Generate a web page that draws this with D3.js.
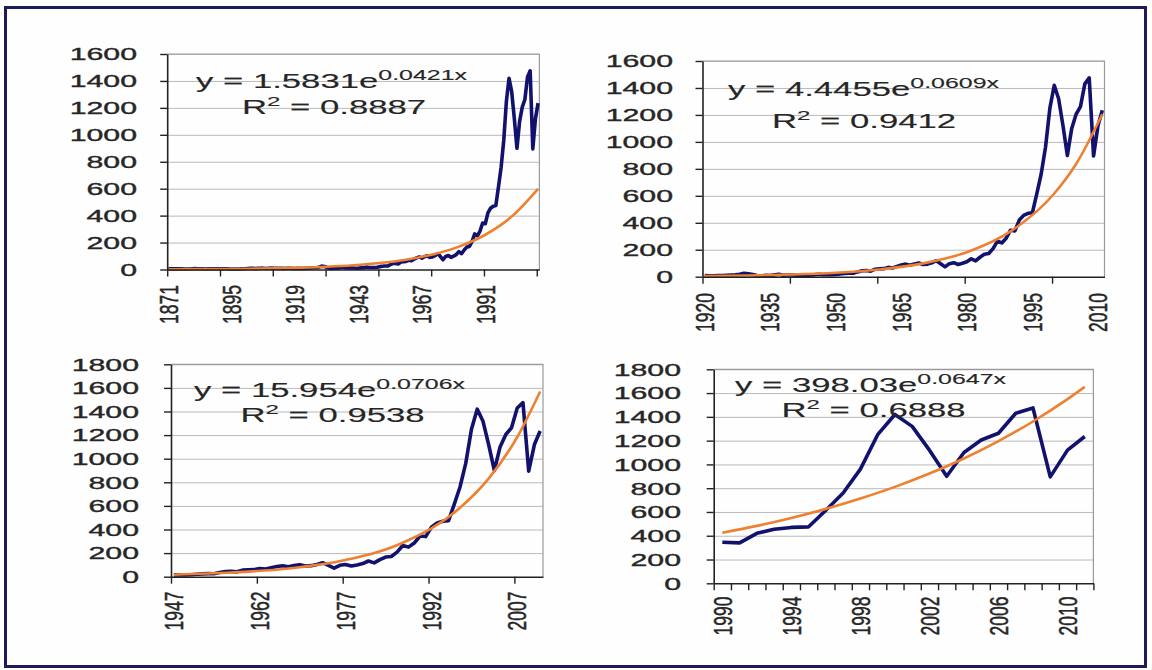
<!DOCTYPE html>
<html><head><meta charset="utf-8">
<script src="https://cdn.jsdelivr.net/npm/d3@7"></script>
<style>
html,body{margin:0;padding:0;background:#fff;}
svg{display:block;font-family:"Liberation Sans", Arial, sans-serif;}
</style></head><body>
<svg id="chart" width="1152" height="670"></svg>
<script>
// ---------- DATA ----------
const firstYear = 1871;
// annual index values 1871..2011
const indexValues = [
  4.44,4.86,5.11,4.66,4.54,4.46,3.55,3.25,3.58,5.11,
  6.19,5.92,5.81,5.18,4.24,5.20,5.58,5.31,5.24,5.38,
  4.84,5.51,5.61,4.32,4.25,4.27,4.22,4.88,6.08,6.10,
  7.07,8.12,8.46,6.68,8.43,9.87,9.56,7.08,9.06,10.08,
  9.27,9.12,9.30,8.37,7.48,9.33,9.57,7.21,7.85,8.83,
  7.11,7.30,8.90,8.83,10.58,12.65,13.40,17.53,24.86,21.71,
  15.98,8.30,7.09,10.54,9.26,13.76,17.59,11.31,12.50,12.30,
  10.55,8.93,10.09,11.85,13.49,18.02,15.21,14.83,15.36,16.88,
  21.21,24.19,26.18,25.46,35.60,44.15,45.43,41.12,55.62,58.03,
  59.72,69.07,65.06,76.45,86.12,93.32,84.45,95.04,102.0,90.31,
  93.49,103.3,118.4,96.11,72.56,96.86,103.8,90.25,99.71,110.9,
  133.0,117.3,144.3,166.4,171.6,208.2,264.5,250.5,285.4,
  345,340,420,455,470,475,615,760,960,1250,
  1420,1320,1120,900,1100,1205,1262,1430,1475,895,
  1120,1235
];
const indexYears = indexValues.map((_, i) => firstYear + i);

// exponential trend lines, values read at sample years
const trendYears1 = [1871,1881,1891,1901,1911,1921,1931,1941,1951,1961,1971,1981,1991,2001,2011];
const trendValues1 = [1.7,2.5,3.8,5.8,8.9,13.6,20.6,31.5,48,73,111,170,258,393,599];
const trendYears2 = [1920,1930,1940,1950,1960,1970,1980,1990,2000,2005,2011];
const trendValues2 = [4.7,8.7,16.0,29.4,54,99,182,336,617,836,1205];
const trendYears3 = [1947,1957,1967,1977,1987,1997,2002,2007,2011];
const trendValues3 = [17,35,70,142,288,584,831,1184,1570];
const trendYears4 = [1990,1992,1994,1996,1998,2000,2002,2004,2006,2008,2010,2011];
const trendValues4 = [425,483,550,626,713,811,923,1050,1196,1361,1549,1652];

const yTicks1600 = [0,200,400,600,800,1000,1200,1400,1600];
const yTicks1800 = [0,200,400,600,800,1000,1200,1400,1600,1800];

const xLabels1 = [1871,1895,1919,1943,1967,1991];
const xLabels2 = [1920,1935,1950,1965,1980,1995,2010];
const xLabels3 = [1947,1962,1977,1992,2007];
const xLabels4 = [1990,1994,1998,2002,2006,2010];

const eqCoefficients = ["1.5831","4.4455","15.954","398.03"];
const eqExponents = ["0.0421x","0.0609x","0.0706x","0.0647x"];
const eqR2 = ["0.8887","0.9412","0.9538","0.6888"];

// ---------- LAYOUT ----------
const panels = [
  {start:1871,end:2011,x0:167.2,x1:539.4,yTop:54,yBot:269.5,yMax:1600,yTicks:yTicks1600,
   tickStep:20,labels:xLabels1,tYears:trendYears1,tVals:trendValues1,
   labRight:137,xLabTop:285,eq:{x:196,y:87.5},r2:{x:242,y:114}},
  {start:1920,end:2011,x0:702.5,x1:1104.5,yTop:61,yBot:276.7,yMax:1600,yTicks:yTicks1600,
   tickStep:20,labels:xLabels2,tYears:trendYears2,tVals:trendValues2,
   labRight:673,xLabTop:293,eq:{x:728,y:96},r2:{x:772,y:127.5}},
  {start:1947,end:2011,x0:171,x1:543,yTop:364.3,yBot:576.7,yMax:1800,yTicks:yTicks1800,
   tickStep:15,labels:xLabels3,tYears:trendYears3,tVals:trendValues3,
   labRight:139,xLabTop:591.5,eq:{x:194,y:396.5},r2:{x:240.5,y:422}},
  {start:1990,end:2011,x0:713.7,x1:1093.4,yTop:369.3,yBot:583.3,yMax:1800,yTicks:yTicks1800,
   tickStep:1,labels:xLabels4,tYears:trendYears4,tVals:trendValues4,
   labRight:681,xLabTop:596.5,eq:{x:735,y:391.5},r2:{x:781.5,y:416.5}}
];

const BLUE = "#12126e", ORANGE = "#ee8030", TEXT = "#262626";
const SX = 1.78;      // horizontal stretch of the picture text
const SXR = 1.45;     // stretch for rotated labels
const FONT = '"Liberation Sans", Arial, sans-serif';

const svg = d3.select("#chart");
svg.append("rect").attr("x",0).attr("y",0).attr("width",1152).attr("height",670).attr("fill","#fff");
svg.append("rect").attr("x",5.5).attr("y",7.5).attr("width",1140).attr("height",659)
   .attr("fill","#fefefe").attr("stroke","#1c1c5c").attr("stroke-width",3);

function heavy(sel, w) {
  return sel.attr("fill", TEXT).attr("stroke", TEXT).attr("stroke-width", w == null ? 0.35 : w);
}

panels.forEach((p, k) => {
  const g = svg.append("g");
  const x = d3.scaleLinear().domain([p.start - 0.5, p.end + 0.5]).range([p.x0, p.x1]);
  const y = d3.scaleLinear().domain([0, p.yMax]).range([p.yBot, p.yTop]);

  // gridlines
  g.append("g").attr("transform", `translate(${p.x0},0)`)
    .call(d3.axisLeft(y).tickValues(p.yTicks.slice(1)).tickSize(-(p.x1 - p.x0)).tickFormat(""))
    .call(a => a.select(".domain").remove())
    .call(a => a.selectAll("line").attr("stroke", "#bababa").attr("stroke-width", 1));
  // plot border (top/right)
  g.append("path").attr("d", `M${p.x0},${p.yTop}H${p.x1}V${p.yBot}`)
    .attr("fill","none").attr("stroke","#9a9a9a").attr("stroke-width",1.2);

  // series
  const slice = indexYears.map((yr, i) => [yr, indexValues[i]]).filter(d => d[0] >= p.start && d[0] <= p.end);
  g.append("path").datum(slice)
    .attr("d", d3.line().x(d => x(d[0])).y(d => y(d[1])))
    .attr("fill","none").attr("stroke",BLUE).attr("stroke-width",3.6).attr("stroke-linejoin","round");
  const trend = p.tYears.map((yr, i) => [yr, p.tVals[i]]);
  g.append("path").datum(trend)
    .attr("d", d3.line().curve(d3.curveMonotoneX).x(d => x(d[0])).y(d => y(d[1])))
    .attr("fill","none").attr("stroke",ORANGE).attr("stroke-width",2.6);

  // y axis
  const ya = g.append("g").attr("transform", `translate(${p.x0},0)`)
    .call(d3.axisLeft(y).tickValues(p.yTicks).tickSize(7).tickSizeOuter(0).tickFormat(d3.format("d")));
  ya.select(".domain").attr("stroke","#222").attr("stroke-width",1.6);
  ya.selectAll(".tick line").attr("stroke","#222").attr("stroke-width",1.4);
  ya.selectAll(".tick text")
    .attr("x",0).attr("dy",null).attr("dominant-baseline","central")
    .attr("text-anchor","end")
    .style("font-size","17px").style("font-family",FONT)
    .attr("transform", `translate(${p.labRight - p.x0},0) scale(${SX},1)`)
    .call(heavy);

  // x axis ticks at category boundaries
  const edges = d3.range(p.start - 0.5, p.end + 0.6, p.tickStep);
  const xa = g.append("g").attr("transform", `translate(0,${p.yBot})`)
    .call(d3.axisBottom(x).tickValues(edges).tickSize(7).tickSizeOuter(0).tickFormat(""));
  xa.select(".domain").attr("stroke","#222").attr("stroke-width",1.6);
  xa.selectAll(".tick line").attr("stroke","#222").attr("stroke-width",1.4);

  // x labels (rotated)
  const xl = g.append("g").attr("transform", `translate(0,${p.yBot})`)
    .call(d3.axisBottom(x).tickValues(p.labels).tickSize(0).tickFormat(d3.format("d")));
  xl.select(".domain").remove();
  xl.selectAll(".tick text")
    .attr("x",0).attr("y",0).attr("dy",null).attr("dominant-baseline","central")
    .attr("text-anchor","end")
    .style("font-size","17.5px").style("font-family",FONT)
    .attr("transform", `translate(0,${p.xLabTop - p.yBot}) scale(${SXR},1) rotate(-90)`)
    .call(heavy);

  // equation
  const eq = g.append("text").style("font-size","19.5px").style("font-family",FONT)
    .attr("transform", `translate(${p.eq.x},${p.eq.y}) scale(${SX},1)`).call(heavy, 0.12);
  eq.append("tspan").text(`y = ${eqCoefficients[k]}e`);
  eq.append("tspan").attr("dy",-8).style("font-size","14px").text(eqExponents[k]);

  const r2 = g.append("text").style("font-size","19.5px").style("font-family",FONT)
    .attr("transform", `translate(${p.r2.x},${p.r2.y}) scale(${SX},1)`).call(heavy, 0.12);
  r2.append("tspan").text("R");
  r2.append("tspan").attr("dy",-8).style("font-size","13.5px").text("2");
  r2.append("tspan").attr("dy",8).text(` = ${eqR2[k]}`);
});
</script>
</body></html>
